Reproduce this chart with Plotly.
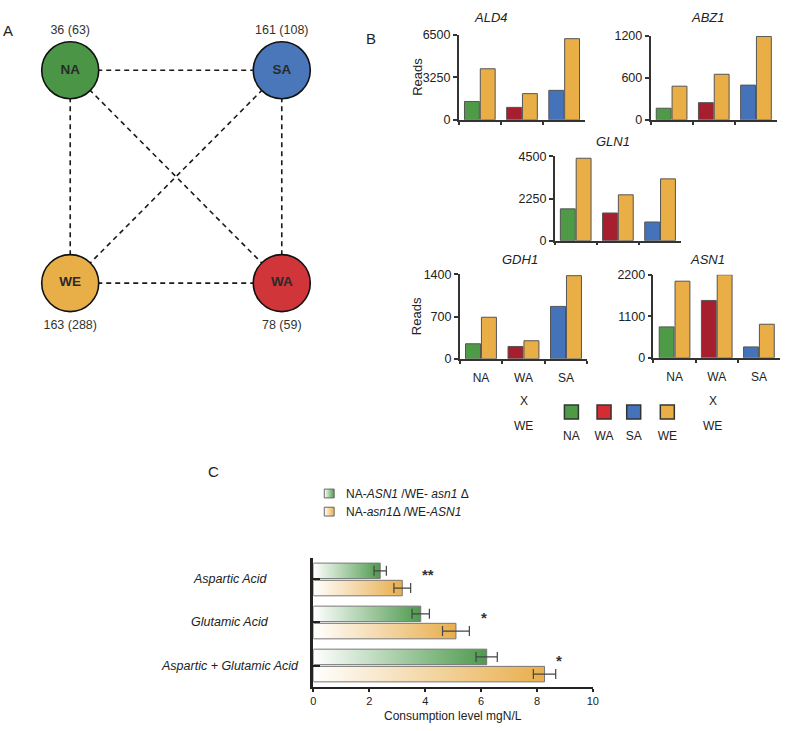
import plotly.graph_objects as go

W, H = 787, 731
FONT = "Liberation Sans, Arial, sans-serif"
TXT = "#222222"

# ---------------- Panel A data ----------------
strains = ["NA", "SA", "WE", "WA"]
specific_count = [36, 161, 163, 78]
paren_count = [63, 108, 288, 59]
edges = [("NA", "SA"), ("NA", "WE"), ("NA", "WA"), ("SA", "WE"), ("SA", "WA"), ("WE", "WA")]

# ---------------- Panel B data ----------------
hybrids = ["NA", "WA", "SA"]
genes = ["ALD4", "ABZ1", "GLN1", "GDH1", "ASN1"]
ald4_parent = [1400, 950, 2250]
ald4_we = [3900, 2000, 6200]
abz1_parent = [165, 245, 495]
abz1_we = [480, 650, 1190]
gln1_parent = [1700, 1480, 1000]
gln1_we = [4400, 2450, 3300]
gdh1_parent = [250, 205, 870]
gdh1_we = [690, 300, 1380]
asn1_parent = [820, 1520, 290]
asn1_we = [2030, 2200, 890]
axis_max = [6500, 1200, 4500, 1400, 2200]
legend_strains = ["NA", "WA", "SA", "WE"]

# ---------------- Panel C data ----------------
acids = ["Aspartic Acid", "Glutamic Acid", "Aspartic + Glutamic Acid"]
green_vals = [2.39, 3.84, 6.2]
green_err = [0.22, 0.31, 0.38]
orange_vals = [3.18, 5.1, 8.27]
orange_err = [0.3, 0.48, 0.4]
significance = ["**", "*", "*"]
x_ticks_c = [0, 2, 4, 6, 8, 10]

# ---------------- styles / layout positions ----------------
node_col = {"NA": "#4B9646", "SA": "#4A77BA", "WE": "#E8AE48", "WA": "#D0353A"}
bar_col = {"NA": "#4E9A47", "WA": "#A71F2E", "SA": "#4473B9", "WE": "#E9AE46"}
leg_col = {"NA": "#4E9A47", "WA": "#D32C33", "SA": "#4473B9", "WE": "#E9AE46"}
node_pos = {"NA": (68, 64.5), "SA": (282, 64.5), "WE": (68, 281.5), "WA": (282, 281.5)}
count_dy = {"NA": -40, "SA": -40, "WE": 44, "WA": 44}
star_x = [4.1, 6.1, 8.8]
GREEN_C = "#4E9A4E"
ORANGE_C = "#E8AE4C"

fig = go.Figure()

def fx(px):
    return px / W

def fy(py):
    return 1 - py / H

# ---- Panel A (pixel-mapped helper axis x/y) ----
for a, b in edges:
    (x0, y0), (x1, y1) = node_pos[a], node_pos[b]
    fig.add_trace(go.Scatter(x=[x0, x1], y=[y0, y1], mode="lines", xaxis="x", yaxis="y",
                             line=dict(color="#1a1a1a", width=1.6, dash="5px,4px"),
                             hoverinfo="skip", showlegend=False))
fig.add_trace(go.Scatter(
    x=[node_pos[s][0] for s in strains], y=[node_pos[s][1] for s in strains],
    mode="markers+text", text=["<b>%s</b>" % s for s in strains], textposition="middle center",
    textfont=dict(family=FONT, size=13.5, color="#2a2a2a"),
    marker=dict(size=57, color=[node_col[s] for s in strains], line=dict(color="#111", width=1.6)),
    xaxis="x", yaxis="y", showlegend=False, hoverinfo="skip"))
fig.add_trace(go.Scatter(
    x=[node_pos[s][0] for s in strains],
    y=[node_pos[s][1] + count_dy[s] for s in strains],
    mode="text", text=["%d (%d)" % (c, p) for c, p in zip(specific_count, paren_count)],
    textfont=dict(family=FONT, size=12.5, color="#333"),
    xaxis="x", yaxis="y", showlegend=False, hoverinfo="skip"))

# ---- Panel B legend squares ----
leg_x = [575, 608, 638, 672]
fig.add_trace(go.Scatter(
    x=leg_x, y=[413] * 4, mode="markers", xaxis="x", yaxis="y",
    marker=dict(symbol="square", size=14, color=[leg_col[s] for s in legend_strains],
                line=dict(color="#333", width=1.5)),
    showlegend=False, hoverinfo="skip"))
fig.add_trace(go.Scatter(
    x=leg_x, y=[438] * 4, mode="text", text=legend_strains, xaxis="x", yaxis="y",
    textfont=dict(family=FONT, size=12, color=TXT), showlegend=False, hoverinfo="skip"))

# ---- Panel C legend swatches (gradient) ----
for yy, col in [(496, GREEN_C), (514.5, ORANGE_C)]:
    fig.add_trace(go.Scatter(
        x=[325, 335, 335, 325, 325], y=[yy - 4.5, yy - 4.5, yy + 4.5, yy + 4.5, yy - 4.5],
        mode="lines", fill="toself", xaxis="x", yaxis="y",
        fillgradient=dict(type="horizontal", colorscale=[[0, "#ffffff"], [1, col]]),
        line=dict(color="#666", width=1), showlegend=False, hoverinfo="skip"))

# ---- Panel B bar charts ----
parents = [ald4_parent, abz1_parent, gln1_parent, gdh1_parent, asn1_parent]
wes = [ald4_we, abz1_we, gln1_we, gdh1_we, asn1_we]
boxes = [(461, 589, 28.3, 115), (655, 783, 29.3, 115), (558, 686, 152.3, 238.3),
         (462, 591, 272.7, 358.7), (658, 786, 273, 357.7)]
title_pos = [(494, 11), (713, 11), (617, 137), (523, 257), (713, 257)]
layout_axes = {}
annotations = []
for k, g in enumerate(genes):
    n = k + 2
    xa, ya = "x%d" % n, "y%d" % n
    fig.add_trace(go.Bar(x=hybrids, y=parents[k], xaxis=xa, yaxis=ya,
                         marker=dict(color=[bar_col[h] for h in hybrids], line=dict(color="#555", width=1)),
                         showlegend=False, hoverinfo="skip"))
    fig.add_trace(go.Bar(x=hybrids, y=wes[k], xaxis=xa, yaxis=ya,
                         marker=dict(color=bar_col["WE"], line=dict(color="#555", width=1)),
                         showlegend=False, hoverinfo="skip"))
    x0, x1, yt, yb = boxes[k]
    m = axis_max[k]
    bottom = g in ("GDH1", "ASN1")
    layout_axes["xaxis%d" % n] = dict(
        domain=[fx(x0), fx(x1)], anchor=ya, type="category", range=[-0.5, 2.5],
        showline=True, linecolor="#333", linewidth=1.5, tickson="boundaries",
        ticks="outside", ticklen=3, tickcolor="#333", tickwidth=1.5,
        showticklabels=bottom, ticklabelstandoff=7,
        tickfont=dict(family=FONT, size=12, color=TXT),
        showgrid=False, zeroline=False, fixedrange=True)
    layout_axes["yaxis%d" % n] = dict(
        domain=[fy(yb), fy(yt)], anchor=xa, range=[0, m],
        tickvals=[0, m / 2, m], ticktext=["0", "%d" % (m / 2), "%d" % m],
        showline=True, linecolor="#333", linewidth=1.5, ticks="outside", ticklen=4,
        tickcolor="#333", tickwidth=1.5, tickfont=dict(family=FONT, size=12.5, color=TXT),
        showgrid=False, zeroline=False, fixedrange=True)
    annotations.append(dict(x=title_pos[k][0], y=title_pos[k][1], xref="x", yref="y",
                            text="<i>%s</i>" % g, showarrow=False, xanchor="center",
                            font=dict(family=FONT, size=13, color=TXT)))

# ---- Panel C ----
bar_w = 0.36
offs = [-0.38, 0.02]
for i, a in enumerate(acids):
    for s, (vals, col) in enumerate([(green_vals, GREEN_C), (orange_vals, ORANGE_C)]):
        y0 = i + offs[s]
        y1 = y0 + bar_w
        v = vals[i]
        fig.add_trace(go.Scatter(
            x=[0, v, v, 0, 0], y=[y0, y0, y1, y1, y0], mode="lines", fill="toself",
            fillgradient=dict(type="horizontal", colorscale=[[0, "#ffffff"], [1, col]]),
            line=dict(width=0), xaxis="x7", yaxis="y7", showlegend=False, hoverinfo="skip"))

for s, (vals, errs) in enumerate([(green_vals, green_err), (orange_vals, orange_err)]):
    fig.add_trace(go.Bar(
        x=vals, y=acids, orientation="h", width=bar_w, offset=offs[s],
        xaxis="x8", yaxis="y8",
        marker=dict(color="rgba(0,0,0,0)", line=dict(color="#777", width=1)),
        error_x=dict(type="data", array=errs, color="#444", thickness=1.2, width=5),
        showlegend=False, hoverinfo="skip"))

cx0, cx1, cyt, cyb = 314, 596.7, 561.7, 693.3
layout_axes["xaxis7"] = dict(domain=[fx(cx0), fx(cx1)], anchor="y7", range=[0, 10],
                             visible=False, fixedrange=True)
layout_axes["yaxis7"] = dict(domain=[fy(cyb), fy(cyt)], anchor="x7", range=[2.5, -0.5],
                             visible=False, fixedrange=True)
layout_axes["xaxis8"] = dict(overlaying="x7", anchor="y8", range=[0, 10], tickvals=x_ticks_c,
                             showline=True, linecolor="#222", linewidth=1.8, ticks="outside",
                             ticklen=3, tickcolor="#222", tickwidth=1.5,
                             tickfont=dict(family=FONT, size=11, color=TXT),
                             showgrid=False, zeroline=False, fixedrange=True)
layout_axes["yaxis8"] = dict(overlaying="y7", anchor="x8", type="category", range=[2.5, -0.5],
                             showline=True, linecolor="#222", linewidth=2.5, ticks="inside",
                             ticklen=7, tickwidth=2, tickcolor="#222", showticklabels=False,
                             showgrid=False, zeroline=False, fixedrange=True)

for a in acids:
    annotations.append(dict(x=fx(230), y=a, xref="paper", yref="y8", text="<i>%s</i>" % a,
                            xanchor="center", showarrow=False,
                            font=dict(family=FONT, size=12.5, color=TXT)))
for i, st in enumerate(significance):
    annotations.append(dict(x=star_x[i], y=i, xref="x8", yref="y7", yshift=5, xanchor="center",
                            text="<b>%s</b>" % st, showarrow=False,
                            font=dict(family=FONT, size=15, color="#333")))

# ---- free text ----
texts = [
    (5, 24, "A", 15), (372, 32, "B", 15), (213, 474, "C", 15),
    (527, 402, "X", 12), (527, 427, "WE", 12),
    (718, 402, "X", 12), (718, 427, "WE", 12),
    (455, 723, "Consumption level mgN/L", 12),
]
for x, y, t, sz in texts:
    annotations.append(dict(x=x, y=y, xref="x", yref="y", text=t, showarrow=False,
                            font=dict(family=FONT, size=sz, color=TXT), xanchor="center"))
for y in (71, 315):
    annotations.append(dict(x=419, y=y, xref="x", yref="y", text="Reads", textangle=-90,
                            showarrow=False, font=dict(family=FONT, size=13, color=TXT)))
annotations.append(dict(x=345, y=496, xref="x", yref="y", xanchor="left",
                        text="NA-<i>ASN1</i> /WE- <i>asn1</i> Δ", showarrow=False,
                        font=dict(family=FONT, size=12, color=TXT)))
annotations.append(dict(x=345, y=514.5, xref="x", yref="y", xanchor="left",
                        text="NA-<i>asn1</i>Δ /WE-<i>ASN1</i>", showarrow=False,
                        font=dict(family=FONT, size=12, color=TXT)))

fig.update_layout(
    width=W, height=H, autosize=False,
    margin=dict(l=0, r=0, t=0, b=0, pad=0),
    paper_bgcolor="white", plot_bgcolor="rgba(0,0,0,0)",
    barmode="group", bargap=0.25, bargroupgap=0.06,
    xaxis=dict(domain=[0, 1], range=[0, W], visible=False, fixedrange=True),
    yaxis=dict(domain=[0, 1], range=[H, 0], visible=False, fixedrange=True),
    annotations=annotations,
    font=dict(family=FONT, color=TXT),
    showlegend=False,
    **layout_axes,
)

fig.write_html("out.html", config={"displayModeBar": False},
               post_script="document.body.style.margin='0px';document.body.style.overflow='hidden';")
